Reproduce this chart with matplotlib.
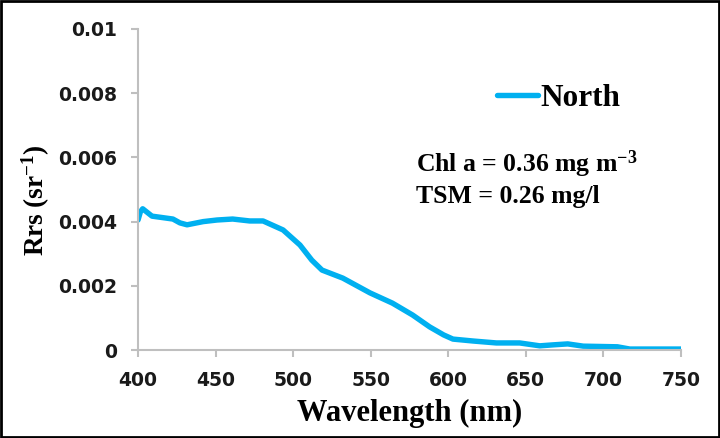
import matplotlib
matplotlib.use("Agg")
import matplotlib.pyplot as plt
from matplotlib.patches import Rectangle

# Remote-sensing reflectance spectrum, northern station
wavelength = [400, 401.5, 403, 409, 422.5, 427, 431.6, 442, 451, 461, 472, 480.6,
              493.5, 504.4, 512, 518.6, 532, 549.5, 564, 577, 588, 597, 603,
              616, 631, 646, 659, 667.5, 677, 687, 709, 717, 749, 750]
rrs = [0.00405, 0.0043, 0.0044, 0.00417, 0.00408, 0.00396, 0.0039, 0.0040, 0.00405,
       0.00408, 0.00402, 0.00402, 0.00374, 0.00327, 0.0028, 0.00249, 0.00224,
       0.00178, 0.00146, 0.00109, 0.00072, 0.00047, 0.00034, 0.00028, 0.00022,
       0.00022, 0.00013, 0.00016, 0.00019, 0.00012, 0.0001, 0.00003, 0.00003,
       0.00003]

x_ticks = [400, 450, 500, 550, 600, 650, 700, 750]
y_ticks = [0, 0.002, 0.004, 0.006, 0.008, 0.01]
y_tick_labels = ["0", "0.002", "0.004", "0.006", "0.008", "0.01"]

series_name = "North"
chl_text = "Chl a = 0.36 mg m$^{-3}$"
tsm_text = "TSM = 0.26 mg/l"

plt.rcParams["mathtext.fontset"] = "custom"
plt.rcParams["mathtext.rm"] = "Liberation Serif:bold"
plt.rcParams["mathtext.default"] = "rm"

SERIF = "Liberation Serif"
GRAY = "#BFBFBF"
BLUE = "#00B0F0"

fig = plt.figure(figsize=(7.2, 4.38), dpi=100)
ax = fig.add_axes([0.1917, 0.2009, 0.7541, 0.7329])

ax.plot(wavelength, rrs, color=BLUE, lw=3.9, solid_capstyle="round",
        solid_joinstyle="round", label=series_name)

ax.set_xlim(400, 750)
ax.set_ylim(0, 0.01)
ax.set_xticks(x_ticks)
ax.set_yticks(y_ticks)
ax.set_yticklabels(y_tick_labels)

for side in ("top", "right"):
    ax.spines[side].set_visible(False)
for side in ("left", "bottom"):
    ax.spines[side].set_color(GRAY)
    ax.spines[side].set_linewidth(1.5)
ax.tick_params(axis="both", direction="out", length=5, width=1.5, color=GRAY,
               labelsize=13.5)
ax.tick_params(axis="y", pad=10)
ax.tick_params(axis="x", pad=10)
for lab in ax.get_xticklabels() + ax.get_yticklabels():
    lab.set_fontweight("bold")
    lab.set_fontfamily("DejaVu Sans")
    lab.set_color("#1a1a1a")

ax.set_xlabel("Wavelength (nm)", fontfamily=SERIF, fontweight="bold", fontsize=22)
ax.set_ylabel("Rrs (sr$^{-1}$)", fontfamily=SERIF, fontweight="bold", fontsize=19.5)
ax.xaxis.set_label_coords(0.501, -0.152)
ax.yaxis.set_label_coords(-0.158, 0.466)

leg = ax.legend(loc="center left", bbox_to_anchor=(0.661, 0.785), frameon=False,
                handlelength=1.3, handletextpad=0.1, borderaxespad=0, borderpad=0,
                prop={"family": SERIF, "weight": "bold", "size": 22.5})

ax.text(0.512, 0.5545, chl_text, transform=ax.transAxes, fontfamily=SERIF,
        fontweight="bold", fontsize=18.5, va="baseline")
ax.text(0.512, 0.458, tsm_text, transform=ax.transAxes, fontfamily=SERIF,
        fontweight="bold", fontsize=18.5, va="baseline")

# Outer frame around the whole figure
fig.patches.append(Rectangle((0.002, 0.003), 0.996, 0.994, transform=fig.transFigure,
                             fill=False, edgecolor="black", lw=2))

fig.savefig("out.png", dpi=100)
